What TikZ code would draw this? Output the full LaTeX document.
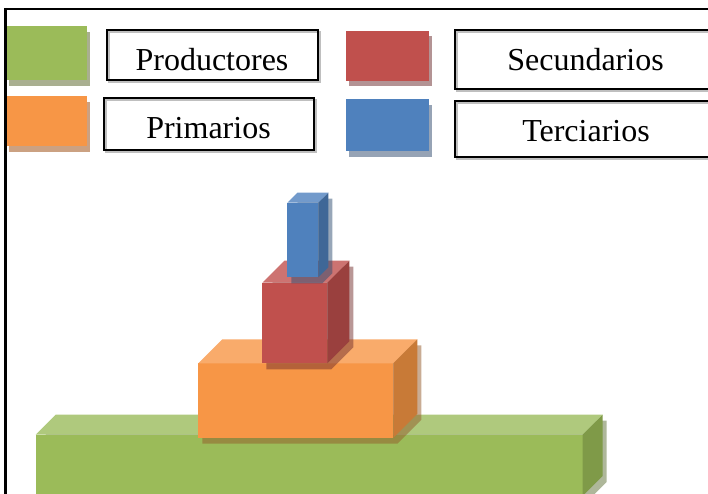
\documentclass[tikz,border=0pt]{standalone}
\usepackage{fontspec}
\setmainfont{Liberation Serif}
\definecolor{gF}{HTML}{9BBB59}\definecolor{gT}{HTML}{AFC97D}\definecolor{gR}{HTML}{7F9A48}
\definecolor{oF}{HTML}{F79646}\definecolor{oT}{HTML}{F9AB6B}\definecolor{oR}{HTML}{C87A37}
\definecolor{rF}{HTML}{C0504D}\definecolor{rT}{HTML}{CD7371}\definecolor{rR}{HTML}{9A403E}
\definecolor{bF}{HTML}{4F81BD}\definecolor{bT}{HTML}{729ACB}\definecolor{bR}{HTML}{3F6797}
\definecolor{gS}{HTML}{A9AF90}\definecolor{oS}{HTML}{CBA182}\definecolor{rS}{HTML}{B39394}\definecolor{bS}{HTML}{96A3B5}
% #1 x, #2 y (front top-left), #3 w, #4 h, #5 depth, #6 colour prefix
\newcommand\cubeblock[6]{%
  \fill[#6F!60!black, opacity=.5] (#1+4,#2+#4+6) -- (#1+4,#2+6) -- (#1+#5+4,#2-#5+6) -- (#1+#3+#5+4,#2-#5+6)
     -- (#1+#3+#5+4,#2+#4-#5+6) -- (#1+#3+4,#2+#4+6) -- cycle;
  \fill[#6F] (#1,#2) rectangle ++(#3,#4);
  \fill[#6T] (#1,#2) -- ++(#5,-#5) -- ++(#3,0) -- ++(-#5,#5) -- cycle;
  \fill[#6R] (#1+#3,#2) -- ++(#5,-#5) -- ++(0,#4) -- ++(-#5,#5) -- cycle;
}
\tikzset{
  legtext/.style={inner sep=0pt, anchor=base, font=\fontsize{32}{36}\selectfont},
  legbox/.style={draw=black, line width=1.8pt},
  boxshadow/.style={draw=black!25, line width=1.5pt},
  frameline/.style={line width=2.5pt, black}
}
\begin{document}
\begin{tikzpicture}[x=1pt,y=-1pt]
\useasboundingbox (0,0) rectangle (708,494);
\clip (0,0) rectangle (708,494);
% frame
\draw[frameline] (4,9) -- (712,9);
\draw[frameline] (5.3,8) -- (5.3,500);
% legend colour squares
\fill[gS] (9,32) rectangle (90,86);
\fill[gF] (6.6,26) rectangle (87,80);
\fill[oS] (9,102) rectangle (90,152);
\fill[oF] (6.6,96) rectangle (87,146);
\fill[rS] (349,36) rectangle (432,86);
\fill[rF] (346,31) rectangle (429,81);
\fill[bS] (349,105) rectangle (432,157);
\fill[bF] (346,99) rectangle (429,151);
% legend text boxes
\draw[boxshadow] (109,32) rectangle (320,82);
\draw[legbox] (107,30) rectangle (318,80);
\draw[boxshadow] (106,100) rectangle (316,152);
\draw[legbox] (104,98) rectangle (314,150);
\draw[boxshadow] (457,32) rectangle (732,91);
\draw[legbox] (455,30) rectangle (730,89);
\draw[boxshadow] (457,103) rectangle (732,159);
\draw[legbox] (455,101) rectangle (730,157);
\node[legtext] (prod) at (212,71) {Productores};
\node[legtext] (prim) at (208.5,138.5) {Primarios};
\node[legtext] (secu) at (585.5,71) {Secundarios};
\node[legtext] (terc) at (586,141.5) {Terciarios};
% pyramid blocks
\cubeblock{35.7}{434.7}{547}{61.3}{20}{g}
\cubeblock{198.3}{363.3}{195}{74.4}{24}{o}
\cubeblock{262.3}{282.7}{65}{80.6}{22}{r}
\cubeblock{287.3}{202.7}{31}{74.6}{10}{b}
\end{tikzpicture}
\end{document}
